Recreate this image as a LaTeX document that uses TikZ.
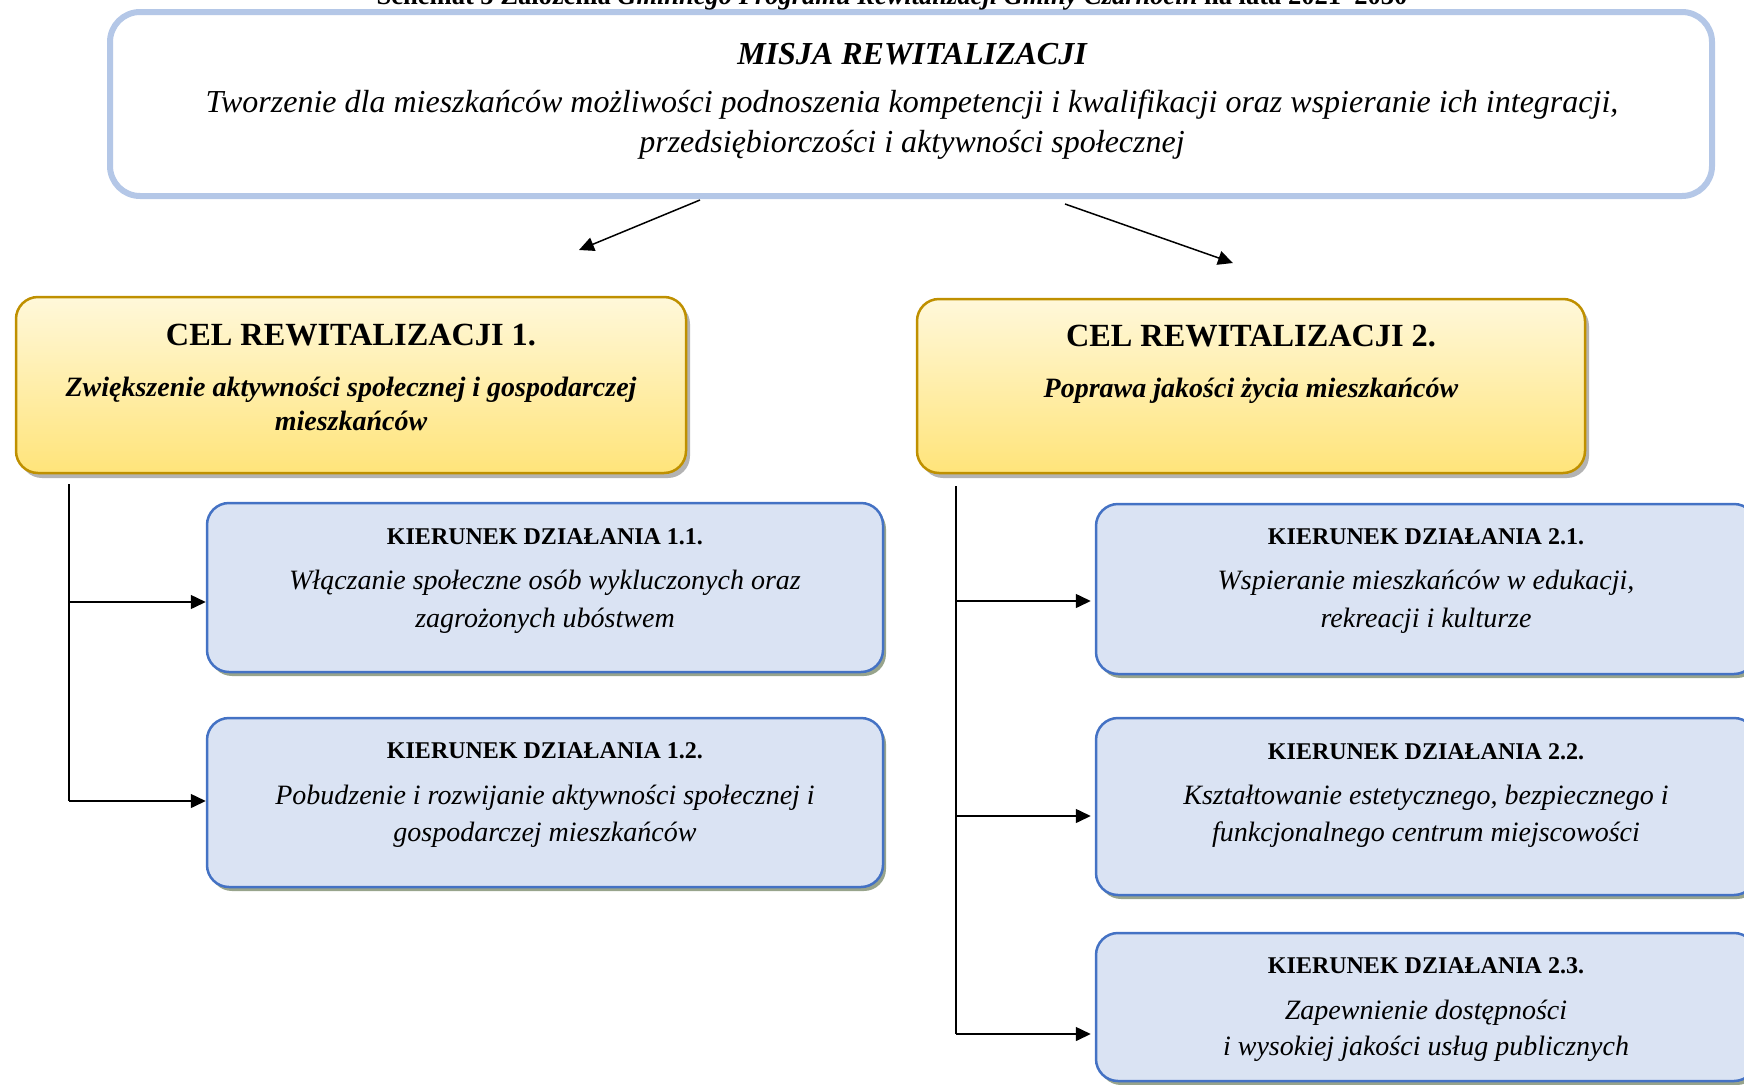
\documentclass[tikz,border=0pt]{standalone}
\usepackage{fontspec}
\setmainfont{Liberation Serif}
\usetikzlibrary{arrows.meta,shadows,calc}
\definecolor{misB}{HTML}{B4C7E7}
\definecolor{kFill}{HTML}{DAE3F3}
\definecolor{kDraw}{HTML}{4472C4}
\definecolor{kShad}{HTML}{98A48C}
\definecolor{cDraw}{HTML}{BF9000}
\definecolor{cTop}{HTML}{FFF8DA}
\definecolor{cBot}{HTML}{FFE47A}
\definecolor{cShad}{HTML}{B3B3B3}
\begin{document}
\begin{tikzpicture}[x=1pt,y=-1pt,
  missionbox/.style={draw=misB, line width=6pt, rounded corners=30pt, fill=white, inner sep=0pt},
  celbox/.style={draw=cDraw, line width=2.5pt, rounded corners=22pt, top color=cTop, bottom color=cBot, inner sep=0pt,
     drop shadow={shadow xshift=4pt, shadow yshift=-5pt, fill=cShad, opacity=1}},
  kbox/.style={draw=kDraw, line width=2.5pt, rounded corners=22pt, fill=kFill, inner sep=0pt,
     drop shadow={shadow xshift=3pt, shadow yshift=-4pt, fill=kShad, opacity=1}},
  txt/.style={anchor=base, inner sep=0pt},
  hdrf/.style={txt, font=\fontsize{26.5}{30}\selectfont\bfseries},
  misT/.style={txt, font=\fontsize{32}{38}\selectfont\bfseries\itshape},
  misL/.style={txt, font=\fontsize{32}{38}\selectfont\itshape},
  celT/.style={txt, font=\fontsize{32.3}{40}\selectfont\bfseries},
  celL/.style={txt, font=\fontsize{28}{33}\selectfont\bfseries\itshape},
  kT/.style={txt, font=\fontsize{24}{28}\selectfont\bfseries},
  kL/.style={txt, font=\fontsize{28}{33}\selectfont\itshape},
  arr/.style={line width=1.5pt, -{Triangle[length=15pt,width=14pt]}},
  treeline/.style={line width=1.5pt},
  treeheavy/.style={line width=2.6pt},
]
\useasboundingbox (0,0) rectangle (1744,1084);

% mission
\node[missionbox, minimum width=1602pt, minimum height=184pt] (mis) at (911,104) {};
\node[hdrf] (hdr) at (892,5) {Schemat 5 Założenia \textit{Gminnego Programu Rewitalizacji Gminy Czarnocin} na lata 2021–2030};
\node[misT] (misT) at (912,64) {MISJA REWITALIZACJI};
\node[misL] (misL1) at (912,112) {Tworzenie dla mieszkańców możliwości podnoszenia kompetencji i kwalifikacji oraz wspieranie ich integracji,};
\node[misL] (misL2) at (912,152) {przedsiębiorczości i aktywności społecznej};

% goals
\node[celbox, minimum width=670pt, minimum height=176pt] (c1) at (351,385) {};
\node[celbox, minimum width=668pt, minimum height=174pt] (c2) at (1251,386) {};
\node[celT] (c1T) at (351,345) {CEL REWITALIZACJI 1.};
\node[celL] (c1L1) at (351,396) {Zwiększenie aktywności społecznej i gospodarczej};
\node[celL] (c1L2) at (351,430) {mieszkańców};
\node[celT] (c2T) at (1251,346) {CEL REWITALIZACJI 2.};
\node[celL] (c2L1) at (1251,397) {Poprawa jakości życia mieszkańców};

% directions
\node[kbox, minimum width=676pt, minimum height=169pt] (k11) at (545,587.5) {};
\node[kbox, minimum width=676pt, minimum height=169pt] (k12) at (545,802.5) {};
\node[kbox, minimum width=660pt, minimum height=170pt] (k21) at (1426,589) {};
\node[kbox, minimum width=660pt, minimum height=177pt] (k22) at (1426,806.5) {};
\node[kbox, minimum width=660pt, minimum height=148pt] (k23) at (1426,1007) {};

\node[kT] (k11T) at (545,544) {KIERUNEK DZIAŁANIA 1.1.};
\node[kL] (k11L1) at (545,589) {Włączanie społeczne osób wykluczonych oraz};
\node[kL] (k11L2) at (545,627) {zagrożonych ubóstwem};

\node[kT] (k12T) at (545,758) {KIERUNEK DZIAŁANIA 1.2.};
\node[kL] (k12L1) at (545,804) {Pobudzenie i rozwijanie aktywności społecznej i};
\node[kL] (k12L2) at (545,841) {gospodarczej mieszkańców};

\node[kT] (k21T) at (1426,544) {KIERUNEK DZIAŁANIA 2.1.};
\node[kL] (k21L1) at (1426,589) {Wspieranie mieszkańców w edukacji,};
\node[kL] (k21L2) at (1426,627) {rekreacji i kulturze};

\node[kT] (k22T) at (1426,759) {KIERUNEK DZIAŁANIA 2.2.};
\node[kL] (k22L1) at (1426,804) {Kształtowanie estetycznego, bezpiecznego i};
\node[kL] (k22L2) at (1426,841) {funkcjonalnego centrum miejscowości};

\node[kT] (k23T) at (1426,973) {KIERUNEK DZIAŁANIA 2.3.};
\node[kL] (k23L1) at (1426,1019) {Zapewnienie dostępności};
\node[kL] (k23L2) at (1426,1055) {i wysokiej jakości usług publicznych};

% mission arrows
\coordinate (m1) at (700,200);
\coordinate (m1e) at (579,250);
\coordinate (m2) at (1065,204);
\coordinate (m2e) at (1233,263);
\draw[arr] (m1) -- (m1e);
\draw[arr] (m2) -- (m2e);

% left tree
\coordinate (l0) at (69,484);
\coordinate (l1) at (69,602);
\coordinate (l2) at (69,801);
\draw[treeline] (l0) -- (l2);
\draw[arr] (l1) -- (k11.west |- l1);
\draw[arr] (l2) -- (k12.west |- l2);

% right tree
\coordinate (r0) at (956,486);
\coordinate (r1) at (956,601);
\coordinate (r2) at (956,816);
\coordinate (r3) at (956,1034);
\draw[treeheavy] (r0) -- (r3);
\draw[arr, shorten >=4pt] (r1) -- (k21.west |- r1);
\draw[arr, shorten >=4pt] (r2) -- (k22.west |- r2);
\draw[arr, shorten >=4pt] (r3) -- (k23.west |- r3);
\end{tikzpicture}
\end{document}
